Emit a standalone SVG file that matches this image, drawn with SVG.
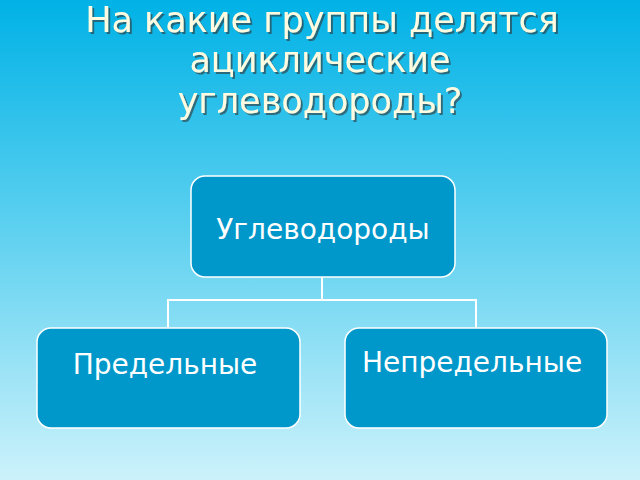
<svg xmlns="http://www.w3.org/2000/svg" width="640" height="480" viewBox="0 0 640 480">
<defs>
<linearGradient id="bg" x1="0" y1="0" x2="0" y2="1">
<stop offset="0" stop-color="#00b2e6"/>
<stop offset="0.5" stop-color="#62d2f0"/>
<stop offset="1" stop-color="#ccf2fb"/>
</linearGradient>
<filter id="ds" x="-10%" y="-30%" width="120%" height="160%">
<feDropShadow dx="2" dy="2" stdDeviation="0.5" flood-color="#333333" flood-opacity="0.6"/>
</filter>
<style>
.box{fill:#0098ca;stroke:#ffffff;stroke-width:1.5}
.lbl{font-family:"DejaVu Sans",sans-serif;font-size:28px;fill:#ffffff;text-anchor:middle}
.title{font-family:"DejaVu Sans",sans-serif;font-size:35px;fill:#fffbe0;text-anchor:middle}
</style>
</defs>
<rect width="640" height="480" fill="url(#bg)"/>
<g id="title" filter="url(#ds)">
<text class="title" x="322" y="32">На какие группы делятся</text>
<text class="title" x="320" y="72">ациклические</text>
<text class="title" x="320" y="113">углеводороды?</text>
</g>
<g id="connectors" fill="none" stroke="#ffffff" stroke-width="2">
<path d="M322 277 V300 M168 328 V300 H476 V328"/>
</g>
<g id="root">
<rect class="box" x="191" y="176" width="264" height="101" rx="14"/>
<text class="lbl" x="323" y="239">Углеводороды</text>
</g>
<g id="saturated">
<rect class="box" x="37" y="328" width="263" height="100" rx="14"/>
<text class="lbl" x="165" y="374">Предельные</text>
</g>
<g id="unsaturated">
<rect class="box" x="345" y="328" width="262" height="100" rx="14"/>
<text class="lbl" x="472" y="372">Непредельные</text>
</g>
</svg>
